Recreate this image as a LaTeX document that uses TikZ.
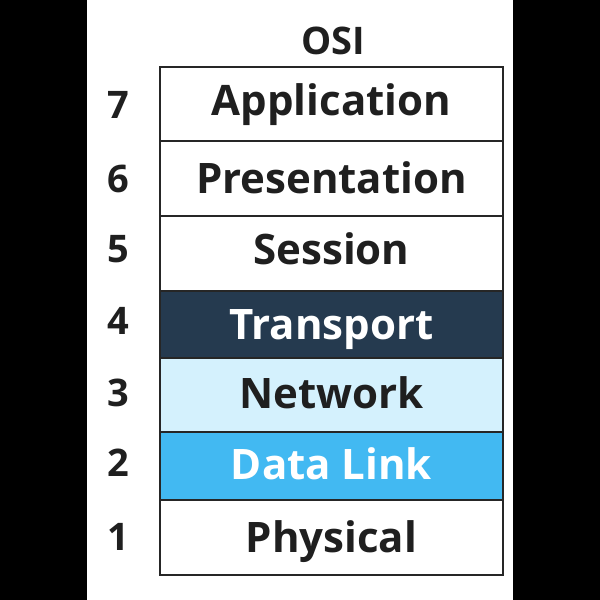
\documentclass[tikz,border=0pt]{standalone}
\usepackage{fontspec}
\setmainfont{Open Sans}
\begin{document}
\begin{tikzpicture}[x=1pt,y=-1pt,
  layer/.style={draw=black!85,line width=1.4pt,minimum width=343pt,inner sep=0pt,
    font=\fontsize{42}{48}\selectfont\bfseries,text height=30pt,text depth=0pt},
  num/.style={font=\fontsize{38}{44}\selectfont\bfseries,text=black!88,inner sep=0pt,text height=27pt,text depth=0pt},
  title/.style={font=\fontsize{38}{44}\selectfont\bfseries,text=black!88,inner sep=0pt,text height=27pt,text depth=0pt}]
\useasboundingbox (0,0) rectangle (600,600);
\fill[black] (0,0) rectangle (600,600);
\fill[white] (87,0) rectangle (513,600);
\definecolor{navy}{HTML}{253A4F}
\definecolor{lightblue}{HTML}{D4F1FD}
\definecolor{midblue}{HTML}{42B9F2}
\node[title] (osi) at (333,41) {OSI};
\node[layer,fill=white,minimum height=74pt,text=black!88] (l7) at (331.5,104) {\raisebox{4pt}{Application}};
\node[layer,fill=white,minimum height=75pt,text=black!88] (l6) at (331.5,178.5) {Presentation};
\node[layer,fill=white,minimum height=75pt,text=black!88] (l5) at (331.5,253.5) {\raisebox{4pt}{Session}};
\node[layer,fill=navy,minimum height=67pt,text=white] (l4) at (331.5,324.5) {Transport};
\node[layer,fill=lightblue,minimum height=74pt,text=black!88] (l3) at (331.5,395) {\raisebox{2pt}{Network}};
\node[layer,fill=midblue,minimum height=68pt,text=white] (l2) at (331.5,466) {\raisebox{2pt}{Data Link}};
\node[layer,fill=white,minimum height=75pt,text=black!88] (l1) at (331.5,537.5) {Physical};
\node[num] (n7) at (118,105) {7};
\node[num] (n6) at (118,178.5) {6};
\node[num] (n5) at (118,249) {5};
\node[num] (n4) at (118,321) {4};
\node[num] (n3) at (118,393) {3};
\node[num] (n2) at (118,463) {2};
\node[num] (n1) at (118,537) {1};
\end{tikzpicture}
\end{document}
